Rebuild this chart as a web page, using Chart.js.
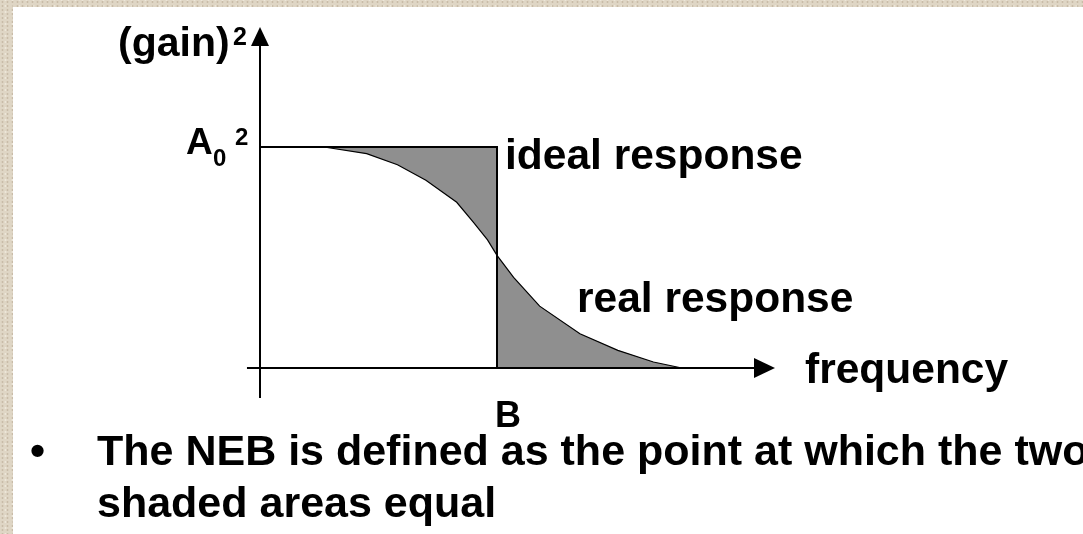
<!DOCTYPE html>
<html>
<head>
<meta charset="utf-8">
<title>Noise equivalent bandwidth</title>
<script src="https://cdn.jsdelivr.net/npm/chart.js@4.4.1/dist/chart.umd.min.js"></script>
<style>
  html, body { margin: 0; padding: 0; width: 1083px; height: 534px; overflow: hidden; }
  body {
    position: relative;
    background-color: #dfd6c5;
    background-image:
      radial-gradient(rgba(150,128,100,0.3) 0.8px, transparent 1.3px),
      radial-gradient(rgba(250,246,238,0.5) 0.8px, transparent 1.3px);
    background-size: 5px 4px, 7px 6px;
    background-position: 0 0, 2px 3px;
    font-family: "Liberation Sans", Arial, sans-serif;
  }
  #panel { position: absolute; left: 13px; top: 7px; right: 0; bottom: 0; background: #fff; }
  #chart { position: absolute; left: 0; top: 0; }
  .note {
    position: absolute; left: 0; top: 424px; width: 1083px; height: 110px;
    font: bold 43px "Liberation Sans", Arial, sans-serif;
    line-height: 52px; color: #000; white-space: nowrap; overflow: hidden;
  }
  .note .bullet { position: absolute; left: 30px; top: 0; }
  .note .text { position: absolute; left: 97px; top: 0; }
</style>
</head>
<body>
<div id="panel"></div>
<canvas id="chart" width="1083" height="534"></canvas>
<div class="note">
  <span class="bullet">•</span>
  <span class="text">The NEB is defined as the point at which the two<br>shaded areas equal</span>
</div>
<script>
// Frequency is normalised so the noise equivalent bandwidth B = 1,
// and power gain so the passband level A0² = 1.
const B = 1;
const A0SQ = 1;

// Real (measured) response: frequency and (gain)²
const realFreq = [0, 0.27, 0.45, 0.58, 0.70, 0.83, 0.90, 0.96, 1.00, 1.07, 1.18, 1.35, 1.51, 1.66, 1.78];
const realGain = [1, 1, 0.97, 0.92, 0.85, 0.75, 0.66, 0.58, 0.51, 0.41, 0.28, 0.155, 0.08, 0.027, 0];

// Ideal (brick-wall) response
const idealFreq = [0, B, B];
const idealGain = [A0SQ, A0SQ, 0];

// Axis labels and annotations
const yAxisLabel = '(gain)';
const yAxisPower = '2';
const xAxisLabel = 'frequency';
const idealLabel = 'ideal response';
const realLabel = 'real response';
const bandwidthLabel = 'B';

const toPoints = (xs, ys) => xs.map((x, i) => ({ x, y: ys[i] }));
const realPts = toPoints(realFreq, realGain);
const lossPts = realPts.filter(p => p.x <= B);   // area lost below the passband
const tailPts = realPts.filter(p => p.x >= B);   // area gained above B

const FONT = '"Liberation Sans", Arial, sans-serif';
const SHADE = '#8f8f8f';

// Axes with arrow heads plus the text annotations
const diagramPlugin = {
  id: 'diagram',
  afterDatasetsDraw(chart) {
    const { ctx, scales: { x, y } } = chart;
    const x0 = Math.round(x.getPixelForValue(0));
    const y0 = Math.round(y.getPixelForValue(0));
    const xLeft = x.getPixelForValue(-0.055);
    const xTip = x.getPixelForValue(2.173);
    const yBottom = y.getPixelForValue(-0.136);
    const yTip = y.getPixelForValue(1.543);

    ctx.save();
    ctx.strokeStyle = '#000';
    ctx.fillStyle = '#000';
    ctx.lineWidth = 2;
    ctx.beginPath();
    ctx.moveTo(xLeft, y0); ctx.lineTo(xTip - 18, y0);
    ctx.moveTo(x0, yBottom); ctx.lineTo(x0, yTip + 16);
    ctx.stroke();

    ctx.beginPath();
    ctx.moveTo(xTip, y0); ctx.lineTo(xTip - 21, y0 - 10); ctx.lineTo(xTip - 21, y0 + 10);
    ctx.closePath(); ctx.fill();
    ctx.beginPath();
    ctx.moveTo(x0, yTip); ctx.lineTo(x0 - 9, yTip + 19); ctx.lineTo(x0 + 9, yTip + 19);
    ctx.closePath(); ctx.fill();

    ctx.textBaseline = 'alphabetic';
    ctx.textAlign = 'left';
    ctx.font = 'bold 41px ' + FONT;
    ctx.fillText(yAxisLabel, 118, 56);
    ctx.font = 'bold 25px ' + FONT;
    ctx.fillText(yAxisPower, 233, 45);

    // A0² level marker
    const yA = y.getPixelForValue(A0SQ);
    ctx.font = 'bold 37px ' + FONT;
    ctx.fillText('A', 186, yA + 7);
    ctx.font = 'bold 24px ' + FONT;
    ctx.fillText('0', 213, yA + 19);
    ctx.fillText('2', 235, yA - 2);

    ctx.font = 'bold 42.5px ' + FONT;
    const xB = x.getPixelForValue(B);
    ctx.fillText(idealLabel, xB + 8, yA + 22);
    ctx.fillText(realLabel, 577, 312);
    ctx.fillText(xAxisLabel, 805, y0 + 15);

    ctx.font = 'bold 36px ' + FONT;
    ctx.fillText(bandwidthLabel, xB - 2, y0 + 59);
    ctx.restore();
  }
};

new Chart(document.getElementById('chart'), {
  type: 'line',
  data: {
    datasets: [
      {
        label: 'ideal',
        data: toPoints(idealFreq, idealGain),
        borderColor: '#000', borderWidth: 2, borderJoinStyle: 'miter',
        pointRadius: 0, fill: false, tension: 0
      },
      {
        label: 'real',
        data: realPts,
        borderColor: '#000', borderWidth: 1.2,
        pointRadius: 0, fill: false, tension: 0
      },
      {
        label: 'loss',
        data: lossPts,
        borderWidth: 0, borderColor: 'rgba(0,0,0,0)',
        backgroundColor: SHADE, pointRadius: 0, tension: 0,
        fill: { value: A0SQ }
      },
      {
        label: 'tail',
        data: tailPts,
        borderWidth: 0, borderColor: 'rgba(0,0,0,0)',
        backgroundColor: SHADE, pointRadius: 0, tension: 0,
        fill: 'origin'
      }
    ]
  },
  options: {
    responsive: false,
    animation: false,
    devicePixelRatio: 1,
    layout: { padding: 0 },
    plugins: { legend: { display: false }, tooltip: { enabled: false } },
    scales: {
      x: { type: 'linear', min: -260 / 237, max: 823 / 237, display: false },
      y: { type: 'linear', min: -166 / 221, max: 368 / 221, display: false }
    }
  },
  plugins: [diagramPlugin]
});
</script>
</body>
</html>
